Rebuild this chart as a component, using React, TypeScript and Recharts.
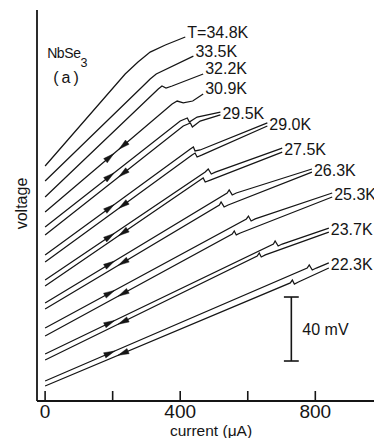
import React from 'react';
import {
  ComposedChart,
  Line,
  Scatter,
  XAxis,
  YAxis,
  ReferenceLine,
  ReferenceDot,
  Label,
} from 'recharts';

// ---------- layout ----------
const CHART_W = 400;
const CHART_H = 438;
const MARGIN = { top: 10, right: 7, bottom: 0, left: 0 };
const Y_AXIS_W = 37;
const X_AXIS_H = 37;
const X_DOMAIN: [number, number] = [-24, 1030];
const Y_DOMAIN: [number, number] = [0, 244.4];
const PLOT_W = CHART_W - MARGIN.left - MARGIN.right - Y_AXIS_W;
const PLOT_H = CHART_H - MARGIN.top - MARGIN.bottom - X_AXIS_H;
const PX_PER_UA = PLOT_W / (X_DOMAIN[1] - X_DOMAIN[0]);
const PX_PER_MV = PLOT_H / (Y_DOMAIN[1] - Y_DOMAIN[0]);

const INK = '#151515';
const FONT = '"Liberation Sans", Arial, Helvetica, sans-serif';

// ---------- ticks ----------
const X_TICKS = [0, 200, 400, 600, 800, 1000];
const X_TICK_LABELS = ['0', '', '400', '', '800', ''];

// ---------- data: current (µA) / voltage (mV, offset curves) ----------
// T = 34.8 K
const I_348 = [0, 237, 275, 311, 356, 415];
const V_348 = [146.9, 204.4, 211.9, 218.1, 222.5, 227.5];
// 33.5 K
const I_335 = [0, 296, 311, 329, 439];
const V_335 = [137.5, 198.1, 201.3, 204.4, 215.6];
// 32.2 K
const I_322 = [0, 335, 346, 358, 376, 468];
const V_322 = [127.5, 195.0, 196.9, 195.6, 196.9, 204.4];
// 30.9 K
const I_309 = [0, 376, 391, 409, 437, 468];
const V_309 = [118.1, 185.6, 187.5, 186.3, 187.5, 191.9];
// 29.5 K (upper / lower branch)
const I_295u = [0, 400, 421, 427, 450, 519];
const V_295u = [108.8, 175.0, 176.9, 174.4, 177.5, 180.6];
const I_295d = [0, 409, 430, 436, 459, 519];
const V_295d = [103.8, 171.9, 173.8, 171.3, 175.0, 178.8];
// 29.0 K
const I_290u = [0, 430, 439, 444, 459, 658];
const V_290u = [91.3, 157.5, 158.8, 156.3, 156.9, 173.8];
const I_290d = [0, 435, 444, 450, 465, 658];
const V_290d = [86.9, 153.8, 155.0, 152.5, 153.8, 171.9];
// 27.5 K
const I_275u = [0, 474, 483, 492, 504, 702];
const V_275u = [75.6, 143.1, 145.0, 141.9, 143.1, 158.1];
const I_275d = [0, 459, 468, 474, 489, 702];
const V_275d = [71.9, 138.1, 139.4, 136.9, 138.1, 155.6];
// 26.3 K
const I_263u = [0, 539, 545, 554, 566, 790];
const V_263u = [61.3, 130.0, 131.9, 128.8, 130.0, 145.0];
const I_263d = [0, 516, 521, 530, 542, 790];
const V_263d = [57.5, 122.5, 124.4, 121.3, 122.5, 143.1];
// 25.3 K
const I_253u = [0, 596, 602, 610, 622, 850];
const V_253u = [45.6, 113.8, 115.6, 112.5, 113.8, 130.0];
const I_253d = [0, 554, 560, 566, 578, 850];
const V_253d = [40.6, 104.4, 106.3, 103.8, 105.0, 127.5];
// 23.7 K
const I_237u = [0, 676, 681, 690, 702, 840];
const V_237u = [29.4, 98.1, 100.0, 96.9, 98.1, 108.1];
const I_237d = [0, 628, 634, 640, 652, 840];
const V_237d = [25.6, 90.6, 92.5, 90.0, 91.3, 105.6];
// 22.3 K
const I_223u = [0, 776, 782, 791, 803, 840];
const V_223u = [12.5, 83.1, 85.0, 81.9, 83.1, 86.3];
const I_223d = [0, 726, 732, 738, 750, 840];
const V_223d = [9.4, 73.8, 75.6, 73.1, 74.4, 83.1];

const TEMP_LABELS = [
  'T=34.8K', '33.5K', '32.2K', '30.9K', '29.5K', '29.0K',
  '27.5K', '26.3K', '25.3K', '23.7K', '22.3K',
];

// sweep-direction arrows (current where the arrow heads sit)
const ARROW_UP_I = 190;
const ARROW_DOWN_I = 232;

// scale bar
const SCALE_I = 729;
const SCALE_LO = 25;
const SCALE_MV = 40;
const SCALE_CAP = 22;

type Branch = { i: number[]; v: number[] };
type Curve = { label: string; up: Branch; down: Branch | null; arrows: boolean };

const b = (i: number[], v: number[]): Branch => ({ i, v });

const CURVES: Curve[] = [
  { label: TEMP_LABELS[0], up: b(I_348, V_348), down: null, arrows: false },
  { label: TEMP_LABELS[1], up: b(I_335, V_335), down: null, arrows: false },
  { label: TEMP_LABELS[2], up: b(I_322, V_322), down: null, arrows: false },
  { label: TEMP_LABELS[3], up: b(I_309, V_309), down: null, arrows: true },
  { label: TEMP_LABELS[4], up: b(I_295u, V_295u), down: b(I_295d, V_295d), arrows: true },
  { label: TEMP_LABELS[5], up: b(I_290u, V_290u), down: b(I_290d, V_290d), arrows: true },
  { label: TEMP_LABELS[6], up: b(I_275u, V_275u), down: b(I_275d, V_275d), arrows: true },
  { label: TEMP_LABELS[7], up: b(I_263u, V_263u), down: b(I_263d, V_263d), arrows: true },
  { label: TEMP_LABELS[8], up: b(I_253u, V_253u), down: b(I_253d, V_253d), arrows: true },
  { label: TEMP_LABELS[9], up: b(I_237u, V_237u), down: b(I_237d, V_237d), arrows: true },
  { label: TEMP_LABELS[10], up: b(I_223u, V_223u), down: b(I_223d, V_223d), arrows: true },
];

const toPts = (br: Branch) => br.i.map((x, k) => ({ i: x, v: br.v[k] }));

// locate arrow on its branch (segment containing the current)
const placeOn = (br: Branch, x: number) => {
  for (let k = 0; k < br.i.length - 1; k++) {
    if (x >= br.i[k] && x <= br.i[k + 1]) {
      const s = (br.v[k + 1] - br.v[k]) / (br.i[k + 1] - br.i[k]);
      return { v: br.v[k] + s * (x - br.i[k]), slope: s };
    }
  }
  return { v: br.v[0], slope: 0 };
};

const ARROWS = CURVES.filter((c) => c.arrows).flatMap((c) => {
  const a = placeOn(c.up, ARROW_UP_I);
  const lower = c.down ?? c.up;
  const d = placeOn(lower, ARROW_DOWN_I);
  return [
    { i: ARROW_UP_I, v: a.v, slope: a.slope, dir: 1 },
    { i: ARROW_DOWN_I, v: d.v, slope: d.slope, dir: -1 },
  ];
});

const ArrowShape = (p: any) => {
  const { cx, cy, payload } = p;
  if (cx == null || cy == null) return <g />;
  const pxSlope = (payload.slope * PX_PER_MV) / PX_PER_UA;
  let ang = (Math.atan2(-pxSlope, 1) * 180) / Math.PI;
  if (payload.dir < 0) ang += 180;
  return (
    <path
      transform={`translate(${cx},${cy}) rotate(${ang})`}
      d="M6,0 L-5,-2.8 L-5,2.8 Z"
      fill={INK}
      stroke={INK}
      strokeWidth={0.4}
    />
  );
};

const endLabel = (text: string, n: number, paired: boolean) => (p: any) => {
  if (p.index !== n - 1) return <g key={`e${p.index}`} />;
  return (
    <text
      key="lbl"
      x={p.cx + 2}
      y={paired ? p.cy + 1.5 : p.cy + 0.5}
      dominantBaseline={paired ? 'central' : 'auto'}
      fontSize={16}
      fontFamily={FONT}
      fill={INK}
    >
      {text}
    </text>
  );
};

const BottomTick = (p: any) => {
  const { x, y, payload } = p;
  const lbl = X_TICK_LABELS[X_TICKS.indexOf(payload.value)];
  return (
    <g>
      <line x1={x} x2={x} y1={y} y2={y - 10} stroke={INK} strokeWidth={1.6} />
      {lbl ? (
        <text x={x} y={y + 17} textAnchor="middle" fontSize={19} fontFamily={FONT} fill={INK}>
          {lbl}
        </text>
      ) : null}
    </g>
  );
};

const TopTick = (p: any) => {
  const { x, y } = p;
  return <line x1={x} x2={x} y1={y} y2={y + 9} stroke={INK} strokeWidth={1.6} />;
};

const VoltageLabel = (p: any) => {
  const vb = p.viewBox || { x: 0, y: 0, width: 0, height: 0 };
  const cx = vb.x + 21.5;
  const cy = vb.y + vb.height / 2 - 2;
  return (
    <text
      x={cx}
      y={cy}
      transform={`rotate(-90 ${cx} ${cy})`}
      textAnchor="middle"
      dominantBaseline="central"
      fontSize={16}
      fontFamily={FONT}
      fill={INK}
    >
      voltage
    </text>
  );
};

const CurrentLabel = (p: any) => {
  const vb = p.viewBox || { x: 0, y: 0, width: 0, height: 0 };
  return (
    <text
      x={vb.x + vb.width / 2 - 4}
      y={vb.y + 35}
      textAnchor="middle"
      fontSize={15.5}
      fontFamily={FONT}
      fill={INK}
    >
      current (μA)
    </text>
  );
};

const SampleName = (p: any) => (
  <text x={p.cx} y={p.cy} fontSize={14} fontFamily={FONT} fill={INK} letterSpacing={-0.4}>
    NbSe
    <tspan dy={9} fontSize={12.5}>3</tspan>
  </text>
);

const PanelTag = (p: any) => (
  <text x={p.cx} y={p.cy} fontSize={16} fontFamily={FONT} fill={INK} letterSpacing={3}>
    (a)
  </text>
);

export default function App() {
  const lines: React.ReactElement[] = [];
  CURVES.forEach((c, idx) => {
    const up = toPts(c.up);
    lines.push(
      <Line
        key={`u${idx}`}
        data={up}
        dataKey="v"
        type="linear"
        stroke={INK}
        strokeWidth={1.25}
        dot={endLabel(c.label, up.length, c.down !== null)}
        activeDot={false}
        isAnimationActive={false}
      />
    );
    if (c.down) {
      const dn = toPts(c.down);
      lines.push(
        <Line
          key={`d${idx}`}
          data={dn}
          dataKey="v"
          type="linear"
          stroke={INK}
          strokeWidth={1.25}
          dot={false}
          activeDot={false}
          isAnimationActive={false}
        />
      );
    }
  });

  return (
    <div
      style={{
        position: 'absolute',
        left: 0,
        top: 0,
        width: 374,
        height: 438,
        overflow: 'hidden',
        background: '#fff',
      }}
    >
      <ComposedChart width={CHART_W} height={CHART_H} margin={MARGIN}>
        <XAxis
          type="number"
          dataKey="i"
          domain={X_DOMAIN}
          allowDataOverflow
          ticks={X_TICKS}
          interval={0}
          tick={BottomTick}
          tickLine={false}
          tickSize={0}
          tickMargin={0}
          height={X_AXIS_H}
          axisLine={{ stroke: INK, strokeWidth: 1.8 }}
        >
          <Label content={CurrentLabel} />
        </XAxis>
        <XAxis
          xAxisId="top"
          orientation="top"
          type="number"
          domain={X_DOMAIN}
          allowDataOverflow
          ticks={X_TICKS}
          interval={0}
          tick={TopTick}
          tickLine={false}
          tickSize={0}
          tickMargin={0}
          height={0}
          axisLine={{ stroke: INK, strokeWidth: 1.8 }}
        />
        <YAxis
          type="number"
          domain={Y_DOMAIN}
          allowDataOverflow
          width={Y_AXIS_W}
          tick={false}
          tickLine={false}
          axisLine={{ stroke: INK, strokeWidth: 1.8 }}
        >
          <Label content={VoltageLabel} />
        </YAxis>

        {lines}

        <Scatter data={ARROWS} dataKey="v" shape={ArrowShape} isAnimationActive={false} />

        <ReferenceLine
          segment={[
            { x: SCALE_I, y: SCALE_LO },
            { x: SCALE_I, y: SCALE_LO + SCALE_MV },
          ]}
          stroke={INK}
          strokeWidth={1.6}
          ifOverflow="visible"
        >
          <Label
            value={`${SCALE_MV} mV`}
            position="right"
            offset={11}
            fontSize={16}
            fontFamily={FONT}
            fill={INK}
          />
        </ReferenceLine>
        <ReferenceLine
          segment={[
            { x: SCALE_I - SCALE_CAP, y: SCALE_LO },
            { x: SCALE_I + SCALE_CAP, y: SCALE_LO },
          ]}
          stroke={INK}
          strokeWidth={1.6}
          ifOverflow="visible"
        />
        <ReferenceLine
          segment={[
            { x: SCALE_I - SCALE_CAP, y: SCALE_LO + SCALE_MV },
            { x: SCALE_I + SCALE_CAP, y: SCALE_LO + SCALE_MV },
          ]}
          stroke={INK}
          strokeWidth={1.6}
          ifOverflow="visible"
        />

        <ReferenceDot x={6} y={214.4} r={0} shape={SampleName} ifOverflow="visible" />
        <ReferenceDot x={24} y={198.8} r={0} shape={PanelTag} ifOverflow="visible" />
      </ComposedChart>
    </div>
  );
}
